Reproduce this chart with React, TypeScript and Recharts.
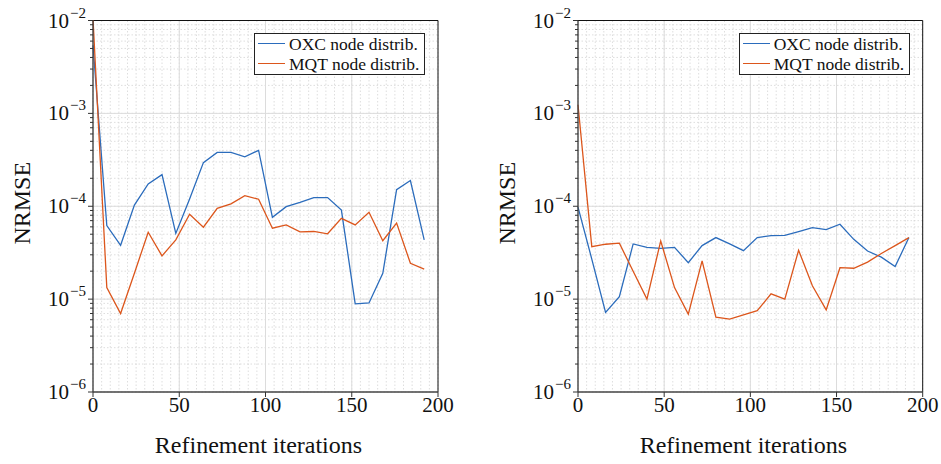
import { LineChart, Line, XAxis, YAxis, CartesianGrid, ReferenceLine, Legend, Label } from "recharts";

const FONT = "Liberation Serif";
const BLUE = "#2b6cbc";
const ORANGE = "#dc561c";

const iterations = [0, 8, 16, 24, 32, 40, 48, 56, 64, 72, 80, 88, 96, 104, 112, 120, 128, 136, 144, 152, 160, 168, 176, 184, 192];

// left panel
const leftOxc = [5.4e-3, 6.2e-5, 3.8e-5, 1.03e-4, 1.74e-4, 2.19e-4, 5.1e-5, 1.2e-4, 2.95e-4, 3.8e-4, 3.8e-4, 3.4e-4, 4.0e-4, 7.6e-5, 9.9e-5, 1.1e-4, 1.24e-4, 1.24e-4, 9.1e-5, 8.9e-6, 9.1e-6, 1.9e-5, 1.51e-4, 1.89e-4, 4.35e-5];
const leftMqt = [1.05e-2, 1.33e-5, 7.0e-6, 1.9e-5, 5.25e-5, 2.92e-5, 4.35e-5, 8.2e-5, 5.95e-5, 9.5e-5, 1.06e-4, 1.3e-4, 1.19e-4, 5.8e-5, 6.3e-5, 5.3e-5, 5.35e-5, 5.05e-5, 7.4e-5, 6.3e-5, 8.6e-5, 4.25e-5, 6.6e-5, 2.43e-5, 2.1e-5];

// right panel
const rightOxc = [9.8e-5, 2.7e-5, 7.2e-6, 1.06e-5, 3.93e-5, 3.61e-5, 3.52e-5, 3.61e-5, 2.47e-5, 3.77e-5, 4.6e-5, 3.93e-5, 3.33e-5, 4.6e-5, 4.83e-5, 4.85e-5, 5.33e-5, 5.89e-5, 5.6e-5, 6.4e-5, 4.4e-5, 3.3e-5, 2.83e-5, 2.24e-5, 4.6e-5];
const rightMqt = [1.24e-3, 3.67e-5, 3.9e-5, 4.0e-5, 2.0e-5, 1.0e-5, 4.23e-5, 1.33e-5, 6.9e-6, 2.58e-5, 6.4e-6, 6.1e-6, 6.76e-6, 7.5e-6, 1.14e-5, 1.0e-5, 3.36e-5, 1.39e-5, 7.65e-6, 2.18e-5, 2.15e-5, 2.5e-5, 3.1e-5, 3.77e-5, 4.6e-5];

const seriesNames = ["OXC node distrib.", "MQT node distrib."];
const seriesColors = [BLUE, ORANGE];

const xMajor = [0, 50, 100, 150, 200];
const xMinor = [0, 5, 10, 15, 20, 25, 30, 35, 40, 45, 50, 55, 60, 65, 70, 75, 80, 85, 90, 95, 100, 105, 110, 115, 120, 125, 130, 135, 140, 145, 150, 155, 160, 165, 170, 175, 180, 185, 190, 195, 200];
const yDecades = [1e-6, 1e-5, 1e-4, 1e-3, 1e-2];
const yMinor = [
  1e-6, 2e-6, 3e-6, 4e-6, 5e-6, 6e-6, 7e-6, 8e-6, 9e-6,
  1e-5, 2e-5, 3e-5, 4e-5, 5e-5, 6e-5, 7e-5, 8e-5, 9e-5,
  1e-4, 2e-4, 3e-4, 4e-4, 5e-4, 6e-4, 7e-4, 8e-4, 9e-4,
  1e-3, 2e-3, 3e-3, 4e-3, 5e-3, 6e-3, 7e-3, 8e-3, 9e-3,
  1e-2,
];

const isDecade = (v: number) => yDecades.some((d) => Math.abs(v / d - 1) < 1e-6);

function YTick(props: any) {
  const { x, y, payload } = props;
  const v = payload.value as number;
  const major = isDecade(v);
  return (
    <g>
      <line x1={x} x2={x - (major ? 5 : 3)} y1={y} y2={y} stroke="#333" strokeWidth={1} />
      {major && (
        <text x={x - 7} y={y + 7} textAnchor="end" style={{ fontFamily: FONT }} fontSize={21} fill="#111">
          <tspan>10</tspan>
          <tspan dx={1} dy={-10} fontSize={15}>{"\u2212" + Math.round(-Math.log10(v))}</tspan>
        </text>
      )}
    </g>
  );
}

function XTick(props: any) {
  const { x, y, payload } = props;
  const v = payload.value as number;
  if (!xMajor.includes(v)) return <g />;
  return (
    <g>
      <line x1={x} x2={x} y1={y} y2={y + 5} stroke="#333" strokeWidth={1} />
      <text x={x} y={y + 20} textAnchor="middle" style={{ fontFamily: FONT }} fontSize={21} fill="#111">{v}</text>
    </g>
  );
}

function LegendBox() {
  return (
    <div style={{ border: "1px solid #222", background: "#fff", padding: "0 5px 0 3px", fontFamily: FONT, fontSize: 17.5, lineHeight: "20px", color: "#111", whiteSpace: "nowrap" }}>
      {seriesNames.map((name, i) => (
        <div key={name} style={{ display: "flex", alignItems: "center" }}>
          <span style={{ display: "inline-block", width: 27, borderTop: `1.5px solid ${seriesColors[i]}`, marginRight: 4 }} />
          {name}
        </div>
      ))}
    </div>
  );
}

interface PanelProps {
  oxc: number[];
  mqt: number[];
  left: number;
  width: number;
  axisWidth: number;
  rightMargin: number;
  legendLeft: number;
}

function Panel({ oxc, mqt, left, width, axisWidth, rightMargin, legendLeft }: PanelProps) {
  const data = iterations.map((it, i) => ({ it, oxc: oxc[i], mqt: mqt[i] }));
  return (
    <div style={{ position: "absolute", left, top: 0 }}>
      <LineChart width={width} height={464} data={data} margin={{ top: 20.5, right: rightMargin, bottom: 0, left: 0 }}>
        <CartesianGrid stroke="#d6d6d6" strokeDasharray="1.5 2" strokeWidth={0.8} />
        {xMajor.slice(1, 4).map((v) => (
          <ReferenceLine key={"x" + v} x={v} stroke="#dcdcdc" strokeWidth={1} />
        ))}
        {yDecades.slice(1, 4).map((v) => (
          <ReferenceLine key={"y" + v} y={v} stroke="#dcdcdc" strokeWidth={1} />
        ))}
        <ReferenceLine y={1e-2} stroke="#111" strokeWidth={1} />
        <ReferenceLine x={200} stroke="#111" strokeWidth={1} />
        <XAxis
          dataKey="it"
          type="number"
          domain={[0, 200]}
          ticks={xMinor}
          interval={0}
          height={72}
          tickSize={0}
          tickMargin={0}
          tickLine={false}
          tick={<XTick />}
          axisLine={{ stroke: "#444", strokeWidth: 1.4 }}
        >
          <Label
            content={(p: any) => {
              const vb = p.viewBox;
              return (
                <text x={vb.x + vb.width / 2 - 7} y={vb.y + 61} textAnchor="middle" style={{ fontFamily: FONT }} fontSize={24} fill="#111">
                  Refinement iterations
                </text>
              );
            }}
          />
        </XAxis>
        <YAxis
          scale="log"
          domain={[1e-6, 1e-2]}
          allowDataOverflow
          ticks={yMinor}
          interval={0}
          width={axisWidth}
          tickSize={0}
          tickMargin={0}
          tickLine={false}
          tick={<YTick />}
          axisLine={{ stroke: "#444", strokeWidth: 1.4 }}
        >
          <Label
            content={(p: any) => {
              const vb = p.viewBox;
              const cx = vb.x + vb.width - 71;
              const cy = vb.y + vb.height / 2 - 3;
              return (
                <text x={cx} y={cy} transform={`rotate(-90 ${cx} ${cy})`} textAnchor="middle" dominantBaseline="central" style={{ fontFamily: FONT }} fontSize={24} fill="#111">
                  NRMSE
                </text>
              );
            }}
          />
        </YAxis>
        <Legend
          layout="vertical"
          align="center"
          verticalAlign="middle"
          content={<LegendBox />}
          wrapperStyle={{ position: "absolute", left: legendLeft, top: 32.5, width: "auto" }}
        />
        <Line type="linear" dataKey="oxc" name={seriesNames[0]} stroke={BLUE} strokeWidth={1.3} dot={false} isAnimationActive={false} />
        <Line type="linear" dataKey="mqt" name={seriesNames[1]} stroke={ORANGE} strokeWidth={1.3} dot={false} isAnimationActive={false} />
      </LineChart>
    </div>
  );
}

export default function App() {
  return (
    <div style={{ position: "absolute", left: 0, top: 0, width: 941, height: 464, background: "#fff" }}>
      <Panel oxc={leftOxc} mqt={leftMqt} left={0} width={470} axisWidth={93} rightMargin={32} legendLeft={254} />
      <Panel oxc={rightOxc} mqt={rightMqt} left={470} width={471} axisWidth={108} rightMargin={18.3} legendLeft={268.7} />
    </div>
  );
}
